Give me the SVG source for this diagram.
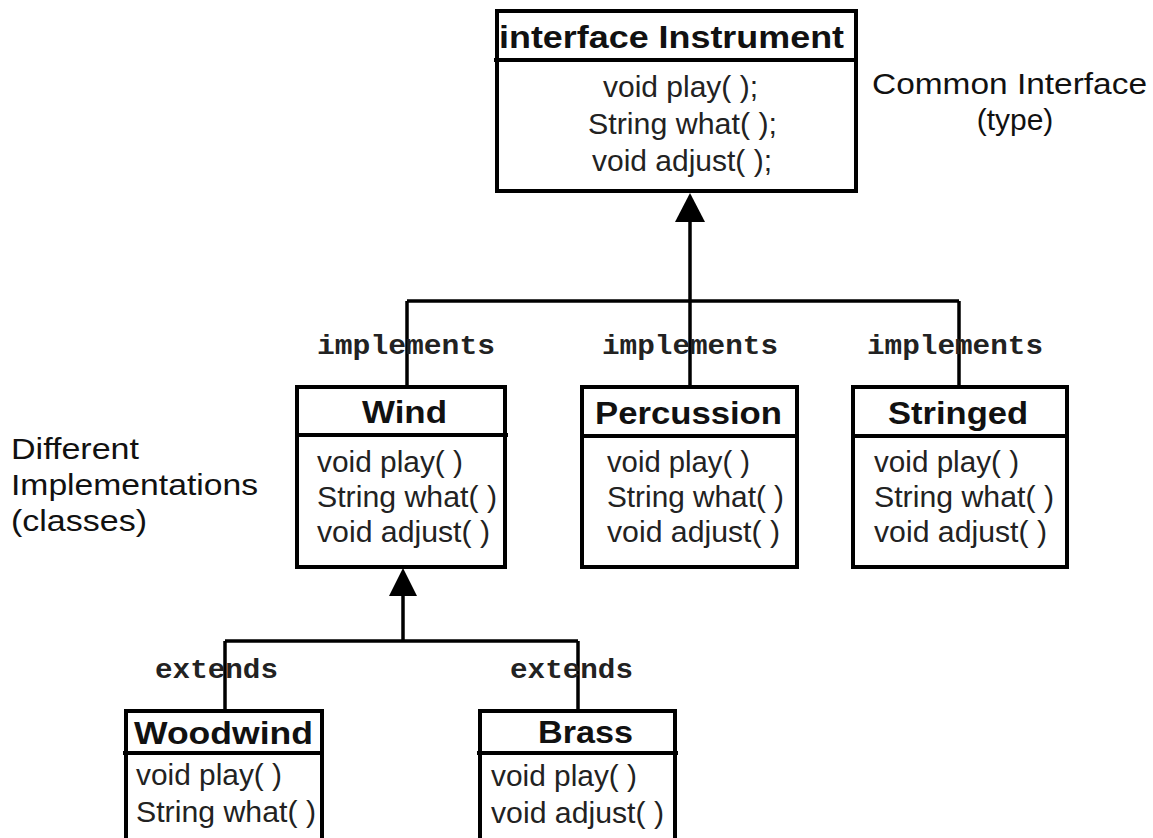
<svg xmlns="http://www.w3.org/2000/svg" width="1153" height="838" viewBox="0 0 1153 838">
<style>
.box{fill:#fff;stroke:#000;stroke-width:4}
.div{stroke:#000;stroke-width:4}
.ln{stroke:#000;stroke-width:3.5;fill:none}
.ah{fill:#000}
.t{font-family:"Liberation Sans",Arial,sans-serif;font-weight:bold;font-size:32px;fill:#111}
.m{font-family:"Liberation Sans",Arial,sans-serif;font-size:30px;fill:#222}
.c{font-family:"Liberation Mono","Courier New",monospace;font-weight:bold;font-size:28px;fill:#222}
.n{font-family:"Liberation Sans",Arial,sans-serif;font-size:30px;fill:#111}
</style>
<rect width="1153" height="838" fill="#fff"/>
<g id="connectors">
<polygon class="ah" points="690,193 675,222 705,222"/>
<line class="ln" x1="690" y1="221" x2="690" y2="301"/>
<line class="ln" x1="407" y1="301" x2="959" y2="301"/>
<line class="ln" x1="407" y1="301" x2="407" y2="387"/>
<line class="ln" x1="690" y1="301" x2="690" y2="387"/>
<line class="ln" x1="959" y1="301" x2="959" y2="387"/>
<polygon class="ah" points="403,568 389,596 417,596"/>
<line class="ln" x1="403" y1="595" x2="403" y2="641"/>
<line class="ln" x1="225" y1="641" x2="578" y2="641"/>
<line class="ln" x1="225" y1="641" x2="225" y2="711"/>
<line class="ln" x1="578" y1="641" x2="578" y2="711"/>
</g>
<g id="labels">
<text class="c" x="317" y="354" textLength="178" lengthAdjust="spacingAndGlyphs">implements</text>
<text class="c" x="602" y="354" textLength="176" lengthAdjust="spacingAndGlyphs">implements</text>
<text class="c" x="867" y="354" textLength="176" lengthAdjust="spacingAndGlyphs">implements</text>
<text class="c" x="155" y="678" textLength="123" lengthAdjust="spacingAndGlyphs">extends</text>
<text class="c" x="510" y="678" textLength="123" lengthAdjust="spacingAndGlyphs">extends</text>
<text class="n" x="872" y="94" textLength="275" lengthAdjust="spacingAndGlyphs">Common Interface</text>
<text class="n" x="1015" y="130" text-anchor="middle">(type)</text>
<text class="n" x="11" y="459" textLength="128" lengthAdjust="spacingAndGlyphs">Different</text>
<text class="n" x="11" y="495" textLength="247" lengthAdjust="spacingAndGlyphs">Implementations</text>
<text class="n" x="11" y="531" textLength="136" lengthAdjust="spacingAndGlyphs">(classes)</text>
</g>
<g id="instrument">
<rect class="box" x="497" y="11" width="359" height="180"/>
<line class="div" x1="494" y1="60" x2="856" y2="60"/>
<text class="t" x="499" y="48" textLength="345" lengthAdjust="spacingAndGlyphs">interface Instrument</text>
<text class="m" x="603" y="97" textLength="155" lengthAdjust="spacingAndGlyphs">void play( );</text>
<text class="m" x="588" y="134" textLength="189" lengthAdjust="spacingAndGlyphs">String what( );</text>
<text class="m" x="592" y="171" textLength="180" lengthAdjust="spacingAndGlyphs">void adjust( );</text>
</g>
<g id="wind">
<rect class="box" x="297" y="387" width="208" height="180"/>
<line class="div" x1="295" y1="435" x2="508" y2="435"/>
<text class="t" x="362" y="423" textLength="85" lengthAdjust="spacingAndGlyphs">Wind</text>
<text class="m" x="317" y="472" textLength="146" lengthAdjust="spacingAndGlyphs">void play( )</text>
<text class="m" x="317" y="507" textLength="180" lengthAdjust="spacingAndGlyphs">String what( )</text>
<text class="m" x="317" y="542" textLength="173" lengthAdjust="spacingAndGlyphs">void adjust( )</text>
</g>
<g id="percussion">
<rect class="box" x="582" y="387" width="215" height="180"/>
<line class="div" x1="582" y1="436" x2="797" y2="436"/>
<text class="t" x="595" y="424" textLength="187" lengthAdjust="spacingAndGlyphs">Percussion</text>
<text class="m" x="607" y="472" textLength="143" lengthAdjust="spacingAndGlyphs">void play( )</text>
<text class="m" x="607" y="507" textLength="177" lengthAdjust="spacingAndGlyphs">String what( )</text>
<text class="m" x="607" y="542" textLength="173" lengthAdjust="spacingAndGlyphs">void adjust( )</text>
</g>
<g id="stringed">
<rect class="box" x="853" y="387" width="214" height="180"/>
<line class="div" x1="853" y1="436" x2="1067" y2="436"/>
<text class="t" x="888" y="424" textLength="140" lengthAdjust="spacingAndGlyphs">Stringed</text>
<text class="m" x="874" y="472" textLength="145" lengthAdjust="spacingAndGlyphs">void play( )</text>
<text class="m" x="874" y="507" textLength="180" lengthAdjust="spacingAndGlyphs">String what( )</text>
<text class="m" x="874" y="542" textLength="173" lengthAdjust="spacingAndGlyphs">void adjust( )</text>
</g>
<g id="woodwind">
<rect class="box" x="126" y="711" width="196" height="140"/>
<line class="div" x1="123" y1="753" x2="322" y2="753"/>
<text class="t" x="134" y="744" textLength="179" lengthAdjust="spacingAndGlyphs">Woodwind</text>
<text class="m" x="136" y="785" textLength="146" lengthAdjust="spacingAndGlyphs">void play( )</text>
<text class="m" x="136" y="822" textLength="180" lengthAdjust="spacingAndGlyphs">String what( )</text>
</g>
<g id="brass">
<rect class="box" x="480" y="711" width="195" height="140"/>
<line class="div" x1="477" y1="753" x2="678" y2="753"/>
<text class="t" x="538" y="743" textLength="95" lengthAdjust="spacingAndGlyphs">Brass</text>
<text class="m" x="491" y="786" textLength="146" lengthAdjust="spacingAndGlyphs">void play( )</text>
<text class="m" x="491" y="823" textLength="173" lengthAdjust="spacingAndGlyphs">void adjust( )</text>
</g>
</svg>
